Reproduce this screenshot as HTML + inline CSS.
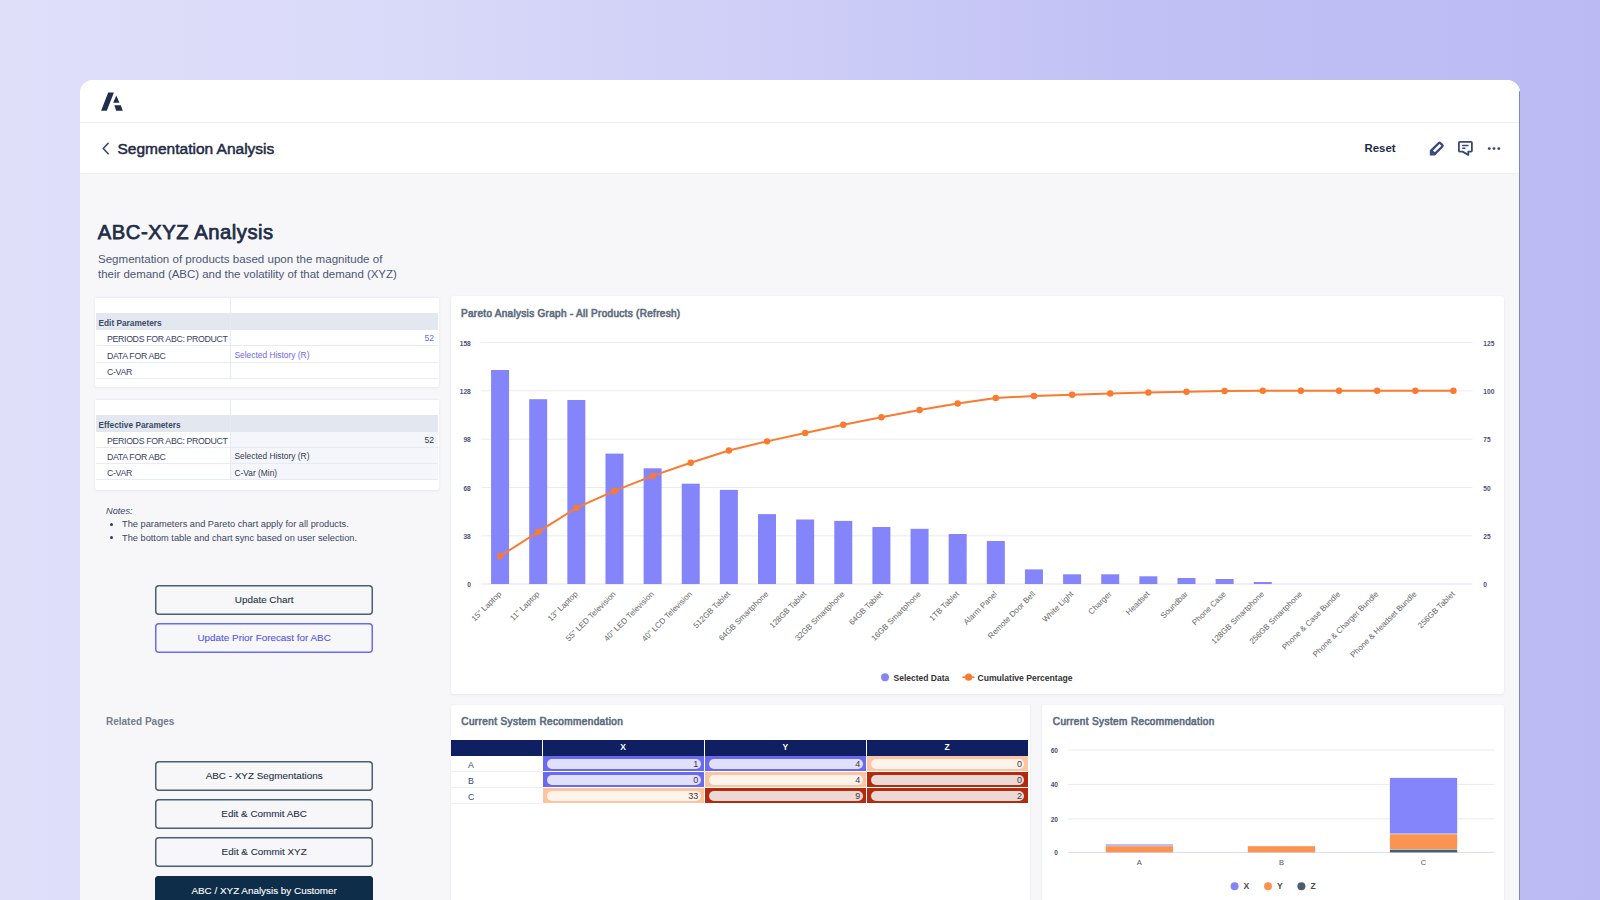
<!DOCTYPE html>
<html><head><meta charset="utf-8"><title>ABC-XYZ Analysis</title>
<style>
*{box-sizing:border-box;margin:0;padding:0}
html,body{width:1600px;height:900px;overflow:hidden}
body{font-family:"Liberation Sans", sans-serif;background:linear-gradient(90deg,#dfdffa 0%,#d9d9f9 25%,#cdcdf7 50%,#c2c1f5 70%,#bbbaf3 100%);position:relative;color:#1f2a44}
.abs{position:absolute;white-space:nowrap}
.card{position:absolute;left:80px;top:80px;width:1440px;height:840px;background:#f7f7f9;border-radius:13px 13px 0 0;overflow:hidden}
.hdr{position:absolute;left:0;top:0;width:100%;height:43px;background:#fff;border-bottom:1px solid #f0f0f3}
.sub{position:absolute;left:0;top:43px;width:100%;height:50px;background:#fff;box-shadow:0 1px 2px rgba(0,0,0,.035)}
.pcard{position:absolute;background:#fff;border-radius:2px;box-shadow:0 1px 3px rgba(30,40,70,.07),0 0 1px rgba(30,40,70,.07)}
.tbl{position:absolute;left:1px;right:1px}
.row{position:absolute;left:0;right:0;border-bottom:1px solid #e8eef8}
.btn{position:absolute;left:155px;width:218.3px;height:29.8px;border:0;box-shadow:inset 0 0 0 1.5px var(--bc,#4a5e70);border-radius:4px;font-size:9.9px;text-align:center;line-height:30.5px;color:#1e3448;-webkit-text-stroke:0.1px #1e3448}
</style></head><body>
<div class="card">
  <div class="hdr"></div>
  <div class="sub"></div>
  <div style="position:absolute;left:1439px;top:11px;width:1px;height:830px;background:#7f8e99"></div>
</div>
<svg class="abs" style="left:0;top:0" width="200" height="130"><g fill="#222d4c"><polygon points="108.2,92.5 113.9,92.5 106.8,110.7 101.1,110.7"/><polygon points="116.3,95.6 119.4,102.7 113.2,102.7"/><polygon points="114.3,105.2 120.8,105.2 122.8,110.7 116.2,110.7"/></g></svg><svg class="abs" style="left:0;top:0" width="120" height="170"><polyline points="108.2,143.3 103.2,148.5 108.2,153.7" fill="none" stroke="#33406a" stroke-width="1.5" stroke-linecap="round" stroke-linejoin="round"/></svg><div class="abs" style="left:117.5px;top:139.6px;font-size:15.5px;line-height:18px;color:#1f2a44;-webkit-text-stroke:0.5px #1f2a44">Segmentation Analysis</div><div class="abs" style="left:1364.5px;top:140.8px;font-size:11.4px;font-weight:700;line-height:14px;color:#1f2a44">Reset</div><svg class="abs" style="left:1420px;top:135px" width="90" height="26"><g transform="rotate(-45)" fill="#39497a"><polygon points="-3.9,17.8 -3.9,25.1 -7.6,21.45"/><rect x="-3.9" y="17.8" width="1.8" height="7.3"/><rect x="-3" y="19" width="11.6" height="4.9" rx="0.9" fill="none" stroke="#39497a" stroke-width="2.3"/></g><path d="M39.8 6.8 H51 Q51.9 6.8 51.9 7.7 V15.7 Q51.9 16.6 51 16.6 H48.3 V19.9 L42.5 16.6 H39.8 Q38.9 16.6 38.9 15.7 V7.7 Q38.9 6.8 39.8 6.8 Z" fill="none" stroke="#39497a" stroke-width="1.8" stroke-linejoin="round"/><g fill="#39497a"><rect x="42.1" y="9.85" width="6.6" height="1.5" rx="0.6"/><rect x="42.1" y="12.45" width="3.4" height="1.5" rx="0.6"/><circle cx="69.3" cy="13.6" r="1.45"/><circle cx="74" cy="13.6" r="1.45"/><circle cx="78.8" cy="13.6" r="1.45"/></g></svg><div class="abs" style="left:97.8px;top:220px;font-size:20.2px;font-weight:400;letter-spacing:0.55px;-webkit-text-stroke:0.75px #222c48;line-height:24px;color:#222c48">ABC-XYZ Analysis</div><div class="abs" style="left:98px;top:252px;font-size:11.55px;line-height:15px;color:#4b5675">Segmentation of products based upon the magnitude of</div><div class="abs" style="left:98px;top:267px;font-size:11.45px;line-height:15px;color:#4b5675">their demand (ABC) and the volatility of that demand (XYZ)</div><div class="pcard" style="left:95px;top:297px;width:344px;height:90px"><div class="abs" style="left:1px;top:0;width:342px;height:16.30000000000001px;border-bottom:0"></div><div class="abs" style="left:1px;top:16.30000000000001px;width:342px;height:16.69999999999999px;background:#e3e8f0"></div><div class="abs" style="left:3.5px;top:19.900000000000013px;font-size:8.3px;font-weight:700;line-height:12px;color:#3d4a66">Edit Parameters</div><div class="abs" style="left:1px;top:33px;width:134px;height:16.399999999999977px;border-bottom:1px solid #e6ecf6"></div><div class="abs" style="left:136px;top:33px;width:207px;height:16.399999999999977px;border-bottom:1px solid #e6ecf6;background:#fff"></div><div class="abs" style="left:12px;top:37.1px;font-size:8.8px;letter-spacing:-0.35px;line-height:10px;color:#384264">PERIODS FOR ABC: PRODUCT</div><div class="abs" style="right:5px;top:36.1px;font-size:8.6px;line-height:10px;color:#6a69ee">52</div><div class="abs" style="left:1px;top:49.39999999999998px;width:134px;height:16.400000000000034px;border-bottom:1px solid #e6ecf6"></div><div class="abs" style="left:136px;top:49.39999999999998px;width:207px;height:16.400000000000034px;border-bottom:1px solid #e6ecf6;background:#fff"></div><div class="abs" style="left:12px;top:53.49999999999998px;font-size:8.8px;letter-spacing:-0.35px;line-height:10px;color:#384264">DATA FOR ABC</div><div class="abs" style="left:139.5px;top:52.799999999999976px;font-size:8.4px;line-height:10px;color:#6a69ee">Selected History (R)</div><div class="abs" style="left:1px;top:65.80000000000001px;width:134px;height:15.800000000000011px;border-bottom:1px solid #e6ecf6"></div><div class="abs" style="left:136px;top:65.80000000000001px;width:207px;height:15.800000000000011px;border-bottom:1px solid #e6ecf6;background:#fff"></div><div class="abs" style="left:12px;top:69.9px;font-size:8.8px;letter-spacing:-0.35px;line-height:10px;color:#384264">C-VAR</div><div class="abs" style="left:135px;top:0;width:1px;height:81.60000000000002px;background:#e6ecf6"></div><div class="abs" style="left:1px;top:0;width:342px;height:1px;background:#e9eef7"></div></div><div class="pcard" style="left:95px;top:399px;width:344px;height:91px"><div class="abs" style="left:1px;top:0;width:342px;height:16px;border-bottom:0"></div><div class="abs" style="left:1px;top:16px;width:342px;height:16.600000000000023px;background:#e3e8f0"></div><div class="abs" style="left:3.5px;top:19.6px;font-size:8.3px;font-weight:700;line-height:12px;color:#3d4a66">Effective Parameters</div><div class="abs" style="left:1px;top:32.60000000000002px;width:134px;height:16.399999999999977px;border-bottom:1px solid #e6ecf6"></div><div class="abs" style="left:136px;top:32.60000000000002px;width:207px;height:16.399999999999977px;border-bottom:1px solid #e6ecf6;background:#f4f6fb"></div><div class="abs" style="left:12px;top:36.700000000000024px;font-size:8.8px;letter-spacing:-0.35px;line-height:10px;color:#384264">PERIODS FOR ABC: PRODUCT</div><div class="abs" style="right:5px;top:35.700000000000024px;font-size:8.6px;line-height:10px;color:#333a4d">52</div><div class="abs" style="left:1px;top:49px;width:134px;height:16.30000000000001px;border-bottom:1px solid #e6ecf6"></div><div class="abs" style="left:136px;top:49px;width:207px;height:16.30000000000001px;border-bottom:1px solid #e6ecf6;background:#f4f6fb"></div><div class="abs" style="left:12px;top:53.1px;font-size:8.8px;letter-spacing:-0.35px;line-height:10px;color:#384264">DATA FOR ABC</div><div class="abs" style="left:139.5px;top:52.4px;font-size:8.4px;line-height:10px;color:#333a4d">Selected History (R)</div><div class="abs" style="left:1px;top:65.30000000000001px;width:134px;height:16.0px;border-bottom:1px solid #e6ecf6"></div><div class="abs" style="left:136px;top:65.30000000000001px;width:207px;height:16.0px;border-bottom:1px solid #e6ecf6;background:#f4f6fb"></div><div class="abs" style="left:12px;top:69.4px;font-size:8.8px;letter-spacing:-0.35px;line-height:10px;color:#384264">C-VAR</div><div class="abs" style="left:139.5px;top:68.70000000000002px;font-size:8.4px;line-height:10px;color:#333a4d">C-Var (Min)</div><div class="abs" style="left:135px;top:0;width:1px;height:81.30000000000001px;background:#e6ecf6"></div><div class="abs" style="left:1px;top:0;width:342px;height:1px;background:#e9eef7"></div></div><div class="abs" style="left:106px;top:506px;font-size:9.2px;line-height:11px;font-style:italic;color:#3a4563">Notes:</div><div class="abs" style="left:110px;top:522.6px;width:3.3px;height:3.3px;border-radius:50%;background:#2e3a5a"></div><div class="abs" style="left:122px;top:519px;font-size:9.25px;line-height:11px;color:#3a4563">The parameters and Pareto chart apply for all products.</div><div class="abs" style="left:110px;top:536.2px;width:3.3px;height:3.3px;border-radius:50%;background:#2e3a5a"></div><div class="abs" style="left:122px;top:533px;font-size:9.25px;line-height:11px;color:#3a4563">The bottom table and chart sync based on user selection.</div><div class="btn" style="top:584.9px">Update Chart</div><div class="btn" style="top:622.9px;--bc:#6a69f3;color:#5756e6;-webkit-text-stroke:0.1px #5756e6">Update Prior Forecast for ABC</div><div class="abs" style="left:106px;top:716px;font-size:10px;font-weight:700;line-height:12px;color:#737d8c">Related Pages</div><div class="btn" style="top:761.2px">ABC - XYZ Segmentations</div><div class="btn" style="top:799px">Edit &amp; Commit ABC</div><div class="btn" style="top:837.3px">Edit &amp; Commit XYZ</div><div class="btn" style="top:875.8px;background:#0d2d48;--bc:#0d2d48;color:#fff;-webkit-text-stroke:0.1px #fff">ABC / XYZ Analysis by Customer</div><div class="pcard" style="left:451px;top:296px;width:1052.6px;height:398.2px"></div><div class="abs" style="left:461px;top:307.7px;font-size:10px;font-weight:400;letter-spacing:0.3px;-webkit-text-stroke:0.65px #5f6e80;line-height:12px;color:#5f6e80">Pareto Analysis Graph - All Products (Refresh)</div><div class="pcard" style="left:451px;top:705px;width:579px;height:220px"></div><div class="abs" style="left:461.3px;top:716.4px;font-size:10px;font-weight:400;letter-spacing:0.39px;-webkit-text-stroke:0.65px #5f6e80;line-height:12px;color:#5f6e80">Current System Recommendation</div><div class="pcard" style="left:1042px;top:705px;width:461.6px;height:220px"></div><div class="abs" style="left:1052.8px;top:716px;font-size:10px;font-weight:400;letter-spacing:0.39px;-webkit-text-stroke:0.65px #5f6e80;line-height:12px;color:#5f6e80">Current System Recommendation</div><div class="abs" style="left:451px;top:740px;width:577px;height:15.5px;background:#0f1f62"></div><div class="abs" style="left:542px;top:740px;width:1px;height:64px;background:#fff"></div><div class="abs" style="left:704.2px;top:740px;width:1px;height:64px;background:#fff"></div><div class="abs" style="left:866.4px;top:740px;width:1px;height:64px;background:#fff"></div><div class="abs" style="left:603.1px;top:742px;width:40px;text-align:center;font-size:8.5px;font-weight:700;line-height:11px;color:#fff">X</div><div class="abs" style="left:765.3px;top:742px;width:40px;text-align:center;font-size:8.5px;font-weight:700;line-height:11px;color:#fff">Y</div><div class="abs" style="left:927.2px;top:742px;width:40px;text-align:center;font-size:8.5px;font-weight:700;line-height:11px;color:#fff">Z</div><div class="abs" style="left:451px;top:756px;width:91px;height:16px;border-bottom:1px solid #eceff4"></div><div class="abs" style="left:468px;top:759.8px;font-size:8.8px;line-height:10px;color:#3c4768">A</div><div class="abs" style="left:543px;top:756px;width:161.20000000000005px;height:15px;background:#6a6aee"></div><div class="abs" style="left:547px;top:758.5px;width:153.70000000000005px;height:10.5px;border-radius:6px;background:#e0e0fa"></div><div class="abs" style="left:547px;top:759.4px;width:151.20000000000005px;text-align:right;font-size:9px;line-height:10px;color:#3a3a3a">1</div><div class="abs" style="left:705.2px;top:756px;width:161.19999999999993px;height:15px;background:#6a6aee"></div><div class="abs" style="left:709.2px;top:758.5px;width:153.69999999999993px;height:10.5px;border-radius:6px;background:#e0e0fa"></div><div class="abs" style="left:709.2px;top:759.4px;width:151.19999999999993px;text-align:right;font-size:9px;line-height:10px;color:#3a3a3a">4</div><div class="abs" style="left:867.4px;top:756px;width:160.60000000000002px;height:15px;background:#fdc4a1"></div><div class="abs" style="left:871.4px;top:758.5px;width:153.10000000000002px;height:10.5px;border-radius:6px;background:#fff3ec"></div><div class="abs" style="left:871.4px;top:759.4px;width:150.60000000000002px;text-align:right;font-size:9px;line-height:10px;color:#3a3a3a">0</div><div class="abs" style="left:451px;top:772px;width:91px;height:16px;border-bottom:1px solid #eceff4"></div><div class="abs" style="left:468px;top:775.8px;font-size:8.8px;line-height:10px;color:#3c4768">B</div><div class="abs" style="left:543px;top:772px;width:161.20000000000005px;height:15px;background:#6a6aee"></div><div class="abs" style="left:547px;top:774.5px;width:153.70000000000005px;height:10.5px;border-radius:6px;background:#e0e0fa"></div><div class="abs" style="left:547px;top:775.4px;width:151.20000000000005px;text-align:right;font-size:9px;line-height:10px;color:#3a3a3a">0</div><div class="abs" style="left:705.2px;top:772px;width:161.19999999999993px;height:15px;background:#fdc4a1"></div><div class="abs" style="left:709.2px;top:774.5px;width:153.69999999999993px;height:10.5px;border-radius:6px;background:#fff3ec"></div><div class="abs" style="left:709.2px;top:775.4px;width:151.19999999999993px;text-align:right;font-size:9px;line-height:10px;color:#3a3a3a">4</div><div class="abs" style="left:867.4px;top:772px;width:160.60000000000002px;height:15px;background:#b22b0e"></div><div class="abs" style="left:871.4px;top:774.5px;width:153.10000000000002px;height:10.5px;border-radius:6px;background:#ecd9d5"></div><div class="abs" style="left:871.4px;top:775.4px;width:150.60000000000002px;text-align:right;font-size:9px;line-height:10px;color:#3a3a3a">0</div><div class="abs" style="left:451px;top:788px;width:91px;height:16px;border-bottom:1px solid #eceff4"></div><div class="abs" style="left:468px;top:791.8px;font-size:8.8px;line-height:10px;color:#3c4768">C</div><div class="abs" style="left:543px;top:788px;width:161.20000000000005px;height:15px;background:#fdc4a1"></div><div class="abs" style="left:547px;top:790.5px;width:153.70000000000005px;height:10.5px;border-radius:6px;background:#fff3ec"></div><div class="abs" style="left:547px;top:791.4px;width:151.20000000000005px;text-align:right;font-size:9px;line-height:10px;color:#3a3a3a">33</div><div class="abs" style="left:705.2px;top:788px;width:161.19999999999993px;height:15px;background:#b22b0e"></div><div class="abs" style="left:709.2px;top:790.5px;width:153.69999999999993px;height:10.5px;border-radius:6px;background:#ecd9d5"></div><div class="abs" style="left:709.2px;top:791.4px;width:151.19999999999993px;text-align:right;font-size:9px;line-height:10px;color:#3a3a3a">9</div><div class="abs" style="left:867.4px;top:788px;width:160.60000000000002px;height:15px;background:#b22b0e"></div><div class="abs" style="left:871.4px;top:790.5px;width:153.10000000000002px;height:10.5px;border-radius:6px;background:#ecd9d5"></div><div class="abs" style="left:871.4px;top:791.4px;width:150.60000000000002px;text-align:right;font-size:9px;line-height:10px;color:#3a3a3a">2</div><svg width="1600" height="900" style="position:absolute;left:0;top:0"><rect x="481.0" y="583.50" width="991.50" height="1" fill="#e0def5"/><rect x="481.0" y="535.30" width="991.50" height="1" fill="#ebebf0"/><rect x="481.0" y="487.00" width="991.50" height="1" fill="#ebebf0"/><rect x="481.0" y="438.70" width="991.50" height="1" fill="#ebebf0"/><rect x="481.0" y="390.30" width="991.50" height="1" fill="#ebebf0"/><rect x="481.0" y="342.00" width="991.50" height="1" fill="#ebebf0"/><text x="470.8" y="587.10" text-anchor="end" font-family="Liberation Sans" font-weight="700" font-size="6.6" fill="#4b4f7c">0</text><text x="1483.3" y="587.10" text-anchor="start" font-family="Liberation Sans" font-weight="700" font-size="6.6" fill="#4b4f7c">0</text><text x="470.8" y="538.90" text-anchor="end" font-family="Liberation Sans" font-weight="700" font-size="6.6" fill="#4b4f7c">38</text><text x="1483.3" y="538.90" text-anchor="start" font-family="Liberation Sans" font-weight="700" font-size="6.6" fill="#4b4f7c">25</text><text x="470.8" y="490.60" text-anchor="end" font-family="Liberation Sans" font-weight="700" font-size="6.6" fill="#4b4f7c">68</text><text x="1483.3" y="490.60" text-anchor="start" font-family="Liberation Sans" font-weight="700" font-size="6.6" fill="#4b4f7c">50</text><text x="470.8" y="442.30" text-anchor="end" font-family="Liberation Sans" font-weight="700" font-size="6.6" fill="#4b4f7c">98</text><text x="1483.3" y="442.30" text-anchor="start" font-family="Liberation Sans" font-weight="700" font-size="6.6" fill="#4b4f7c">75</text><text x="470.8" y="393.90" text-anchor="end" font-family="Liberation Sans" font-weight="700" font-size="6.6" fill="#4b4f7c">128</text><text x="1483.3" y="393.90" text-anchor="start" font-family="Liberation Sans" font-weight="700" font-size="6.6" fill="#4b4f7c">100</text><text x="470.8" y="345.60" text-anchor="end" font-family="Liberation Sans" font-weight="700" font-size="6.6" fill="#4b4f7c">158</text><text x="1483.3" y="345.60" text-anchor="start" font-family="Liberation Sans" font-weight="700" font-size="6.6" fill="#4b4f7c">125</text><rect x="491.07" y="370.00" width="18" height="214.00" fill="#8585fb"/><rect x="529.20" y="399.20" width="18" height="184.80" fill="#8585fb"/><rect x="567.34" y="400.00" width="18" height="184.00" fill="#8585fb"/><rect x="605.47" y="453.60" width="18" height="130.40" fill="#8585fb"/><rect x="643.61" y="468.30" width="18" height="115.70" fill="#8585fb"/><rect x="681.74" y="483.70" width="18" height="100.30" fill="#8585fb"/><rect x="719.88" y="489.90" width="18" height="94.10" fill="#8585fb"/><rect x="758.01" y="514.10" width="18" height="69.90" fill="#8585fb"/><rect x="796.14" y="519.50" width="18" height="64.50" fill="#8585fb"/><rect x="834.28" y="520.90" width="18" height="63.10" fill="#8585fb"/><rect x="872.41" y="527.00" width="18" height="57.00" fill="#8585fb"/><rect x="910.55" y="528.80" width="18" height="55.20" fill="#8585fb"/><rect x="948.68" y="534.00" width="18" height="50.00" fill="#8585fb"/><rect x="986.82" y="541.00" width="18" height="43.00" fill="#8585fb"/><rect x="1024.95" y="569.40" width="18" height="14.60" fill="#8585fb"/><rect x="1063.09" y="574.30" width="18" height="9.70" fill="#8585fb"/><rect x="1101.22" y="574.30" width="18" height="9.70" fill="#8585fb"/><rect x="1139.36" y="576.30" width="18" height="7.70" fill="#8585fb"/><rect x="1177.49" y="578.00" width="18" height="6.00" fill="#8585fb"/><rect x="1215.62" y="579.00" width="18" height="5.00" fill="#8585fb"/><rect x="1253.76" y="582.00" width="18" height="2.00" fill="#8585fb"/><polyline fill="none" stroke="#fb7a30" stroke-width="2" stroke-linejoin="round" points="500.07,556.08 538.20,531.97 576.34,507.96 614.47,490.94 652.61,475.85 690.74,462.76 728.88,450.48 767.01,441.36 805.14,432.94 843.28,424.71 881.41,417.27 919.55,410.07 957.68,403.55 995.82,397.94 1033.95,396.03 1072.09,394.77 1110.22,393.50 1148.36,392.50 1186.49,391.71 1224.62,391.06 1262.76,390.80 1300.89,390.80 1339.03,390.80 1377.16,390.80 1415.30,390.80 1453.43,390.80"/><circle cx="500.07" cy="556.08" r="3.2" fill="#fb7a30"/><circle cx="538.20" cy="531.97" r="3.2" fill="#fb7a30"/><circle cx="576.34" cy="507.96" r="3.2" fill="#fb7a30"/><circle cx="614.47" cy="490.94" r="3.2" fill="#fb7a30"/><circle cx="652.61" cy="475.85" r="3.2" fill="#fb7a30"/><circle cx="690.74" cy="462.76" r="3.2" fill="#fb7a30"/><circle cx="728.88" cy="450.48" r="3.2" fill="#fb7a30"/><circle cx="767.01" cy="441.36" r="3.2" fill="#fb7a30"/><circle cx="805.14" cy="432.94" r="3.2" fill="#fb7a30"/><circle cx="843.28" cy="424.71" r="3.2" fill="#fb7a30"/><circle cx="881.41" cy="417.27" r="3.2" fill="#fb7a30"/><circle cx="919.55" cy="410.07" r="3.2" fill="#fb7a30"/><circle cx="957.68" cy="403.55" r="3.2" fill="#fb7a30"/><circle cx="995.82" cy="397.94" r="3.2" fill="#fb7a30"/><circle cx="1033.95" cy="396.03" r="3.2" fill="#fb7a30"/><circle cx="1072.09" cy="394.77" r="3.2" fill="#fb7a30"/><circle cx="1110.22" cy="393.50" r="3.2" fill="#fb7a30"/><circle cx="1148.36" cy="392.50" r="3.2" fill="#fb7a30"/><circle cx="1186.49" cy="391.71" r="3.2" fill="#fb7a30"/><circle cx="1224.62" cy="391.06" r="3.2" fill="#fb7a30"/><circle cx="1262.76" cy="390.80" r="3.2" fill="#fb7a30"/><circle cx="1300.89" cy="390.80" r="3.2" fill="#fb7a30"/><circle cx="1339.03" cy="390.80" r="3.2" fill="#fb7a30"/><circle cx="1377.16" cy="390.80" r="3.2" fill="#fb7a30"/><circle cx="1415.30" cy="390.80" r="3.2" fill="#fb7a30"/><circle cx="1453.43" cy="390.80" r="3.2" fill="#fb7a30"/><text x="501.87" y="594.50" text-anchor="end" transform="rotate(-45 501.87 594.50)" font-family="Liberation Sans" font-size="8" fill="#666666">15" Laptop</text><text x="540.00" y="594.50" text-anchor="end" transform="rotate(-45 540.00 594.50)" font-family="Liberation Sans" font-size="8" fill="#666666">11" Laptop</text><text x="578.14" y="594.50" text-anchor="end" transform="rotate(-45 578.14 594.50)" font-family="Liberation Sans" font-size="8" fill="#666666">13" Laptop</text><text x="616.27" y="594.50" text-anchor="end" transform="rotate(-45 616.27 594.50)" font-family="Liberation Sans" font-size="8" fill="#666666">55" LED Television</text><text x="654.41" y="594.50" text-anchor="end" transform="rotate(-45 654.41 594.50)" font-family="Liberation Sans" font-size="8" fill="#666666">40" LED Television</text><text x="692.54" y="594.50" text-anchor="end" transform="rotate(-45 692.54 594.50)" font-family="Liberation Sans" font-size="8" fill="#666666">40" LCD Television</text><text x="730.67" y="594.50" text-anchor="end" transform="rotate(-45 730.67 594.50)" font-family="Liberation Sans" font-size="8" fill="#666666">512GB Tablet</text><text x="768.81" y="594.50" text-anchor="end" transform="rotate(-45 768.81 594.50)" font-family="Liberation Sans" font-size="8" fill="#666666">64GB Smartphone</text><text x="806.94" y="594.50" text-anchor="end" transform="rotate(-45 806.94 594.50)" font-family="Liberation Sans" font-size="8" fill="#666666">128GB Tablet</text><text x="845.08" y="594.50" text-anchor="end" transform="rotate(-45 845.08 594.50)" font-family="Liberation Sans" font-size="8" fill="#666666">32GB Smartphone</text><text x="883.21" y="594.50" text-anchor="end" transform="rotate(-45 883.21 594.50)" font-family="Liberation Sans" font-size="8" fill="#666666">64GB Tablet</text><text x="921.35" y="594.50" text-anchor="end" transform="rotate(-45 921.35 594.50)" font-family="Liberation Sans" font-size="8" fill="#666666">16GB Smartphone</text><text x="959.48" y="594.50" text-anchor="end" transform="rotate(-45 959.48 594.50)" font-family="Liberation Sans" font-size="8" fill="#666666">1TB Tablet</text><text x="997.62" y="594.50" text-anchor="end" transform="rotate(-45 997.62 594.50)" font-family="Liberation Sans" font-size="8" fill="#666666">Alarm Panel</text><text x="1035.75" y="594.50" text-anchor="end" transform="rotate(-45 1035.75 594.50)" font-family="Liberation Sans" font-size="8" fill="#666666">Remote Door Bell</text><text x="1073.89" y="594.50" text-anchor="end" transform="rotate(-45 1073.89 594.50)" font-family="Liberation Sans" font-size="8" fill="#666666">White Light</text><text x="1112.02" y="594.50" text-anchor="end" transform="rotate(-45 1112.02 594.50)" font-family="Liberation Sans" font-size="8" fill="#666666">Charger</text><text x="1150.16" y="594.50" text-anchor="end" transform="rotate(-45 1150.16 594.50)" font-family="Liberation Sans" font-size="8" fill="#666666">Headset</text><text x="1188.29" y="594.50" text-anchor="end" transform="rotate(-45 1188.29 594.50)" font-family="Liberation Sans" font-size="8" fill="#666666">Soundbar</text><text x="1226.42" y="594.50" text-anchor="end" transform="rotate(-45 1226.42 594.50)" font-family="Liberation Sans" font-size="8" fill="#666666">Phone Case</text><text x="1264.56" y="594.50" text-anchor="end" transform="rotate(-45 1264.56 594.50)" font-family="Liberation Sans" font-size="8" fill="#666666">128GB Smartphone</text><text x="1302.69" y="594.50" text-anchor="end" transform="rotate(-45 1302.69 594.50)" font-family="Liberation Sans" font-size="8" fill="#666666">256GB Smartphone</text><text x="1340.83" y="594.50" text-anchor="end" transform="rotate(-45 1340.83 594.50)" font-family="Liberation Sans" font-size="8" fill="#666666">Phone &amp; Case Bundle</text><text x="1378.96" y="594.50" text-anchor="end" transform="rotate(-45 1378.96 594.50)" font-family="Liberation Sans" font-size="8" fill="#666666">Phone &amp; Charger Bundle</text><text x="1417.10" y="594.50" text-anchor="end" transform="rotate(-45 1417.10 594.50)" font-family="Liberation Sans" font-size="8" fill="#666666">Phone &amp; Headset Bundle</text><text x="1455.23" y="594.50" text-anchor="end" transform="rotate(-45 1455.23 594.50)" font-family="Liberation Sans" font-size="8" fill="#666666">256GB Tablet</text><circle cx="885" cy="677.2" r="4" fill="#8585fb"/><text x="893.5" y="681.2" font-family="Liberation Sans" font-weight="700" font-size="8.5" fill="#333">Selected Data</text><rect x="962.5" y="676.4" width="12" height="1.6" fill="#fb7a30"/><circle cx="968.6" cy="677.2" r="3.6" fill="#fb7a30"/><text x="977.5" y="681.2" font-family="Liberation Sans" font-weight="700" font-size="8.6" fill="#333">Cumulative Percentage</text><rect x="1068.3" y="851.90" width="426.30" height="1" fill="#d9dbf5"/><text x="1058" y="855.00" text-anchor="end" font-family="Liberation Sans" font-weight="700" font-size="6.6" fill="#4b4f7c">0</text><rect x="1068.3" y="818.40" width="426.30" height="1" fill="#ebebf0"/><text x="1058" y="821.50" text-anchor="end" font-family="Liberation Sans" font-weight="700" font-size="6.6" fill="#4b4f7c">20</text><rect x="1068.3" y="783.90" width="426.30" height="1" fill="#ebebf0"/><text x="1058" y="787.00" text-anchor="end" font-family="Liberation Sans" font-weight="700" font-size="6.6" fill="#4b4f7c">40</text><rect x="1068.3" y="749.50" width="426.30" height="1" fill="#ebebf0"/><text x="1058" y="752.60" text-anchor="end" font-family="Liberation Sans" font-weight="700" font-size="6.6" fill="#4b4f7c">60</text><rect x="1105.70" y="846.17" width="67.3" height="6.23" fill="#fc9451"/><rect x="1105.70" y="844.47" width="67.3" height="1.11" fill="#8585fb"/><text x="1139.35" y="864.8" text-anchor="middle" font-family="Liberation Sans" font-size="7.5" fill="#555">A</text><rect x="1247.80" y="846.17" width="67.3" height="6.23" fill="#fc9451"/><text x="1281.45" y="864.8" text-anchor="middle" font-family="Liberation Sans" font-size="7.5" fill="#555">B</text><rect x="1389.90" y="849.59" width="67.3" height="2.81" fill="#4a5e6e"/><rect x="1389.90" y="834.23" width="67.3" height="14.76" fill="#fc9451"/><rect x="1389.90" y="777.91" width="67.3" height="55.72" fill="#8585fb"/><text x="1423.55" y="864.8" text-anchor="middle" font-family="Liberation Sans" font-size="7.5" fill="#555">C</text><circle cx="1234.6" cy="886.2" r="4" fill="#8585fb"/><text x="1243.6" y="889.2" font-family="Liberation Sans" font-weight="700" font-size="8.6" fill="#4a4a4a">X</text><circle cx="1268" cy="886.2" r="4" fill="#fc9451"/><text x="1277" y="889.2" font-family="Liberation Sans" font-weight="700" font-size="8.6" fill="#4a4a4a">Y</text><circle cx="1301.4" cy="886.2" r="4" fill="#4a5e6e"/><text x="1310.4" y="889.2" font-family="Liberation Sans" font-weight="700" font-size="8.6" fill="#4a4a4a">Z</text></svg></body></html>
